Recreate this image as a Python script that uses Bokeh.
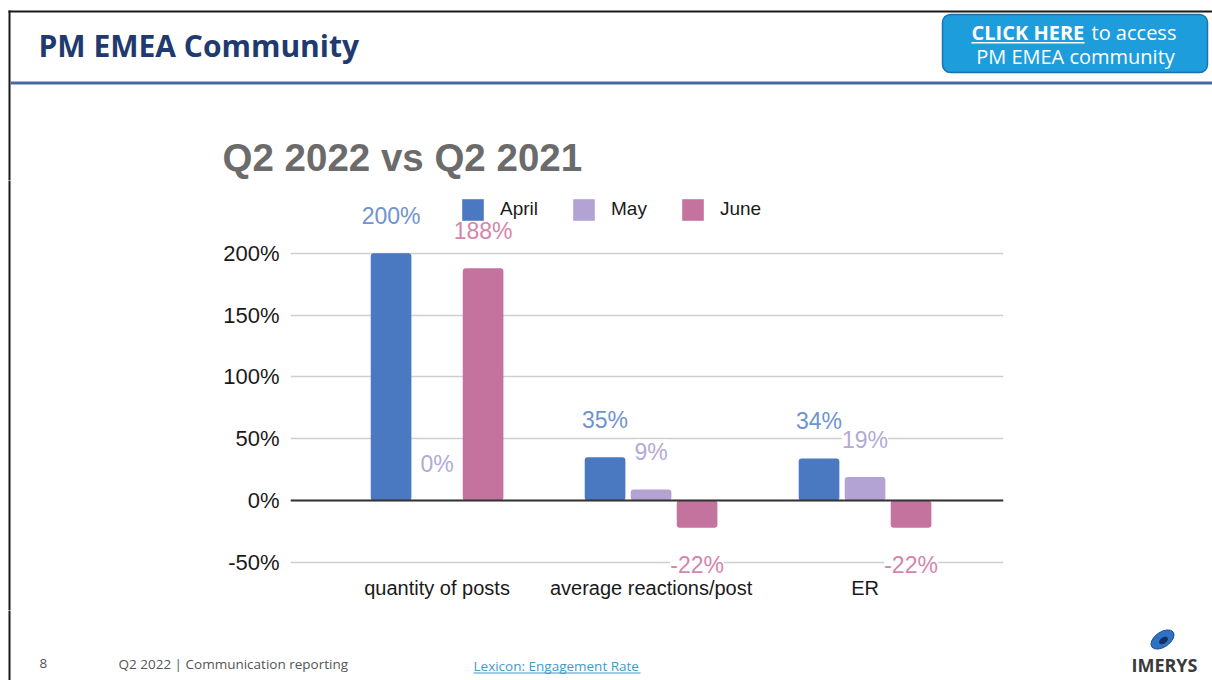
from bokeh.plotting import figure
from bokeh.layouts import column, row
from bokeh.models import (ColumnDataSource, Range1d, FixedTicker, PrintfTickFormatter,
                          LabelSet, Legend, LegendItem, Span)
from bokeh.core.properties import value
from bokeh.embed import file_html
from bokeh.resources import INLINE

# ---------------- data ----------------
categories = ["quantity of posts", "average reactions/post", "ER"]
months = ["April", "May", "June"]
april = [200, 35, 34]
may = [0, 9, 19]
june = [188, -22, -22]
y_ticks = [-50, 0, 50, 100, 150, 200]

title_text = "Q2 2022 vs Q2 2021"
header_text = "PM EMEA Community"

# ---------------- styles ----------------
bar_colors = ["#4a78c1", "#b3a2d4", "#c3739e"]
label_colors = ["#6f93d0", "#b3aad6", "#d585ab"]
offsets = [-0.215, 0.0, 0.215]
CHART_FONT = "Liberation Sans"
UI_FONT = "Open Sans"

W, H = 1212, 680
HEAD_H = 180          # header band (page y 0..180)
MID_H = 430          # chart band (page y 180..610)
FOOT_H = H - HEAD_H - MID_H
LEFT_W = 200         # left strip of the chart band
FL, FR, FT, FB = 290, 1003, 180, 576   # page coords of chart frame
PX_PER_PCT = 1.236


def yval(py):
    return (500 - py) / PX_PER_PCT


def deco_fig(w, h, y0):
    f = figure(width=w, height=h, output_backend="svg", toolbar_location=None,
               x_range=Range1d(0, w), y_range=Range1d(y0 + h, y0),
               x_axis_type=None, y_axis_type=None,
               min_border_left=0, min_border_right=0, min_border_top=0, min_border_bottom=0)
    f.outline_line_color = None
    f.background_fill_color = "white"
    f.border_fill_color = "white"
    f.grid.visible = False
    f.frame_align = False
    return f


def txt(f, x, y, s, size, color, font=UI_FONT, style="normal", align="left"):
    f.text(x=[x], y=[y], text=[s], text_font=value(font), text_font_size=value(size),
           text_color=color, text_font_style=style, text_align=align,
           text_baseline="middle")


def rect(f, x0, y0, x1, y1, color, line=None, radius=0, lw=1):
    f.quad(left=[x0], right=[x1], top=[y0], bottom=[y1], fill_color=color,
           line_color=line, line_width=lw, border_radius=radius)


# ---------------- header ----------------
hd = deco_fig(W, HEAD_H, 0)
rect(hd, 8, 10, W, 12, "#1a1a1a")
rect(hd, 8, 10, 10, HEAD_H + 5, "#1a1a1a")
rect(hd, 10, 81, W, 84, "#4a6aa5")
txt(hd, 38, 45, header_text, "30px", "#1f3a6e", style="bold")
rect(hd, 942, 14, 1207, 72, "#1e9ddd", line="#1a72b0", radius=8, lw=1.5)
txt(hd, 971, 32, "CLICK HERE", "20px", "white", style="bold")
rect(hd, 971, 41.5, 1084, 43, "white")
txt(hd, 1091, 32, "to access", "20px", "white")
txt(hd, 1075, 56, "PM EMEA community", "20px", "white", align="center")
txt(hd, 222, 157, title_text, "38.5px", "#6b6b6b", font=CHART_FONT, style="bold")

# ---------------- left strip ----------------
lf = deco_fig(LEFT_W, MID_H, HEAD_H)
rect(lf, 8, HEAD_H - 5, 10, HEAD_H + MID_H + 5, "#1a1a1a")

# ---------------- chart ----------------
CW = W - LEFT_W
p = figure(width=CW, height=MID_H, output_backend="svg", toolbar_location=None,
           x_range=Range1d(-0.685, 2.647), y_range=Range1d(yval(FB), yval(FT)),
           min_border_left=FL - LEFT_W, min_border_right=W - FR,
           min_border_top=FT - HEAD_H, min_border_bottom=HEAD_H + MID_H - FB)
p.outline_line_color = None
p.background_fill_color = "white"
p.border_fill_color = "white"

xs = list(range(len(categories)))
series = [april, may, june]
renderers = []
for i, (name, vals) in enumerate(zip(months, series)):
    src = ColumnDataSource(dict(
        x=[x + offsets[i] for x in xs],
        top=vals,
        lab=[f"{v}%" for v in vals],
        yoff=[37 if v >= 0 else -37 for v in vals],
    ))
    r = p.vbar(x="x", top="top", bottom=0, width=0.19, source=src,
               fill_color=bar_colors[i], line_color=None, border_radius=3)
    renderers.append(r)
    ls = LabelSet(x="x", y="top", text="lab", y_offset="yoff", source=src,
                  text_align="center", text_baseline="middle",
                  text_font=value(CHART_FONT), text_font_size=value("23px"),
                  text_color=label_colors[i], background_fill_color="white")
    p.add_layout(ls)

p.xaxis.ticker = FixedTicker(ticks=xs)
p.xaxis.major_label_overrides = {i: c for i, c in enumerate(categories)}
p.xaxis.axis_line_color = None
p.xaxis.major_tick_line_color = None
p.xaxis.minor_tick_line_color = None
p.xaxis.major_tick_out = 0
p.xaxis.major_tick_in = 0
p.xaxis.minor_tick_out = 0
p.xaxis.major_label_text_font = CHART_FONT
p.xaxis.major_label_text_font_size = "20px"
p.xaxis.major_label_text_color = "#1a1a1a"
p.xaxis.major_label_standoff = 0

p.yaxis.ticker = FixedTicker(ticks=y_ticks)
p.yaxis.formatter = PrintfTickFormatter(format="%d%%")
p.yaxis.axis_line_color = None
p.yaxis.major_tick_line_color = None
p.yaxis.minor_tick_line_color = None
p.yaxis.major_tick_out = 0
p.yaxis.major_tick_in = 0
p.yaxis.minor_tick_out = 0
p.yaxis.major_label_text_font = CHART_FONT
p.yaxis.major_label_text_font_size = "22px"
p.yaxis.major_label_text_color = "#1a1a1a"
p.yaxis.major_label_standoff = 11

p.xgrid.visible = False
p.ygrid.ticker = FixedTicker(ticks=y_ticks)
p.ygrid.grid_line_color = "#cfcfcf"
p.ygrid.grid_line_width = 1.5

p.add_layout(Span(location=0, dimension="width", line_color="#333333", line_width=2))

legend = Legend(items=[LegendItem(label=m, renderers=[r]) for m, r in zip(months, renderers)],
                orientation="horizontal", location=(169, FB - 222.5),
                glyph_width=27, glyph_height=27, label_standoff=14, spacing=32,
                padding=0, margin=0, border_line_color=None, background_fill_alpha=0,
                label_text_font=CHART_FONT, label_text_font_size="19px",
                label_text_color="#1a1a1a")
p.add_layout(legend)

# ---------------- footer ----------------
y0 = HEAD_H + MID_H
ft = deco_fig(W, FOOT_H, y0)
rect(ft, 8, y0 - 5, 10, H, "#1a1a1a")
txt(ft, 39, 663, "8", "13.5px", "#555555")
txt(ft, 118, 663, "Q2 2022  |  Communication reporting", "13.5px", "#555555")
txt(ft, 473, 665, "Lexicon: Engagement Rate", "13.5px", "#3d9cc9")
rect(ft, 473, 672, 640, 673, "#3d9cc9")
txt(ft, 1164, 664, "IMERYS", "18px", "#3a3a3a", style="bold", align="center")
ft.ellipse(x=[1162], y=[639], width=[26], height=[15], angle=[0.6],
           fill_color="#2f72c4", line_color="#1d4f94")
ft.ellipse(x=[1163], y=[640], width=[10], height=[6], angle=[0.6],
           fill_color="#14305e", line_color=None)

layout = column(hd, row(lf, p, spacing=0), ft, spacing=0)
open("out.html", "w").write(file_html(layout, INLINE))
